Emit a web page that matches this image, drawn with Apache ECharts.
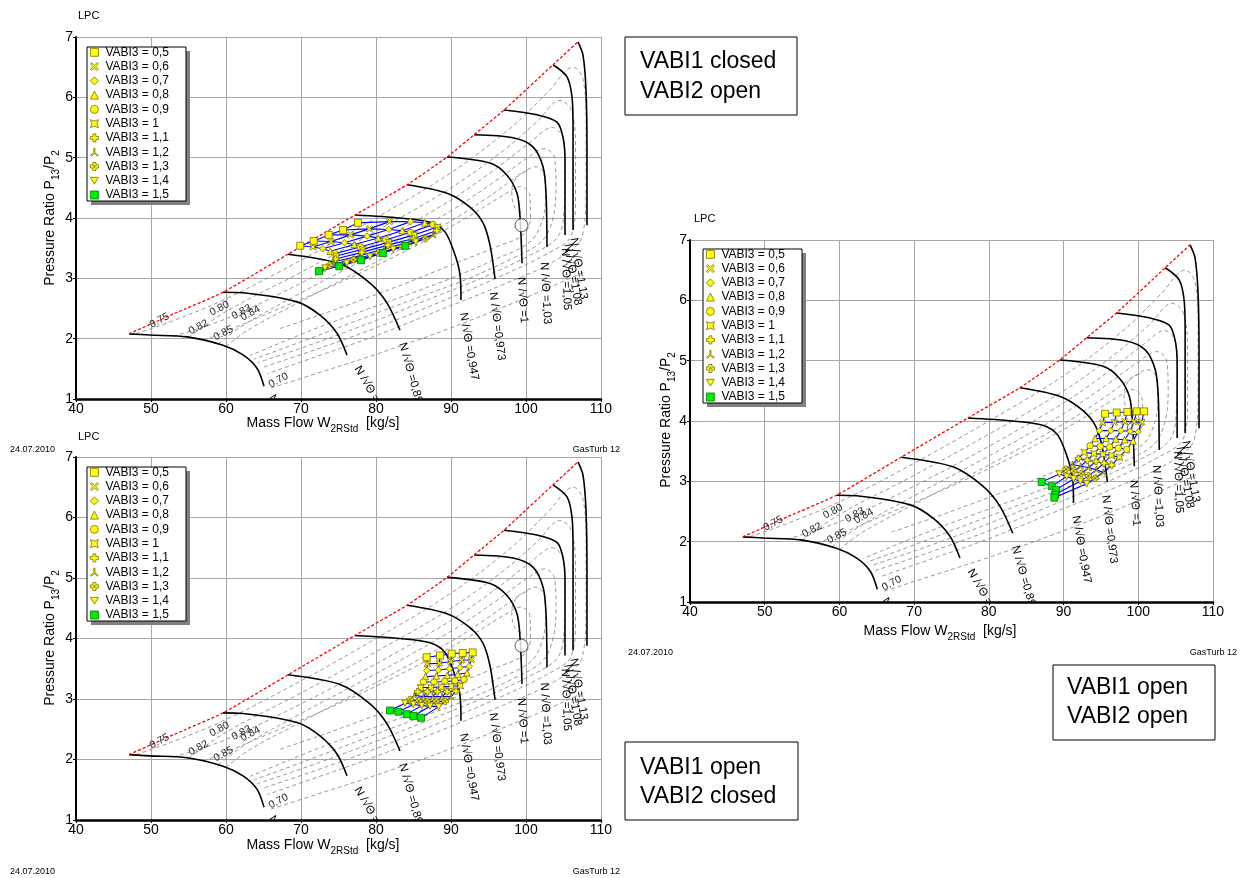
<!DOCTYPE html>
<html><head><meta charset="utf-8">
<script src="https://cdn.jsdelivr.net/npm/echarts@6/dist/echarts.min.js"></script>
<style>html,body{margin:0;padding:0;background:#fff}#c{width:1241px;height:878px}</style>
</head><body><div id="c"></div>
<script>
const FF = 'Liberation Sans, Arial, Helvetica, sans-serif';

// ---------- axis ranges ----------
const xRange = [40, 110, 10];
const yRange = [1, 7, 1];

// ---------- legend names ----------
const vabi3Names = ['VABI3 = 0,5','VABI3 = 0,6','VABI3 = 0,7','VABI3 = 0,8','VABI3 = 0,9','VABI3 = 1','VABI3 = 1,1','VABI3 = 1,2','VABI3 = 1,3','VABI3 = 1,4','VABI3 = 1,5'];

// ---------- compressor map: surge line ----------
const surgeLine = [[47.07,2.08],[53,2.41],[59.6,2.77],[68.27,3.40],[77.2,4.05],[84.13,4.55],[89.47,5.01],[93.07,5.38],[97.07,5.79],[103.6,6.54],[106.93,6.92]];

// ---------- speed lines N/sqrt(theta) ----------
const speedValues = ['0,80','0,842','0,894','0,947','0,973','1','1,03','1,05','1,08','1,13'];
const speedLines = [
  [[47.07,2.08],[49.87,2.06],[54.8,2.03],[59.6,1.89],[62.27,1.73],[64.13,1.51],[65.07,1.21]],
  [[59.6,2.77],[62.27,2.76],[69.47,2.61],[72.53,2.39],[74.8,2.09],[76.13,1.73]],
  [[68.27,3.40],[75.2,3.24],[79.2,2.92],[81.47,2.59],[83.2,2.14]],
  [[77.2,4.05],[83.2,4.0],[87.2,3.93],[89.2,3.77],[90.53,3.39],[91.2,3.06],[91.33,2.64]],
  [[84.13,4.55],[89.47,4.41],[92.53,4.18],[94.27,3.92],[95.2,3.55],[95.87,2.99]],
  [[89.47,5.01],[95.2,4.91],[97.47,4.71],[98.8,4.41],[99.2,4.02],[99.47,3.25]],
  [[93.07,5.38],[98.27,5.33],[100.93,5.18],[102.27,4.85],[102.67,4.41],[102.8,3.52]],
  [[97.07,5.79],[101.47,5.71],[104.13,5.59],[104.93,5.34],[105.2,4.96],[105.2,3.72]],
  [[103.6,6.54],[105.47,6.34],[106.13,6.01],[106.27,5.51],[106.27,3.80]],
  [[106.93,6.92],[107.6,6.70],[108.0,6.12],[108.13,5.13],[108.13,3.88]]
];
const speedLabelAnchor = [[66.0,1.05],[77.47,1.53],[83.47,1.93],[91.6,2.43],[95.6,2.77],[99.33,3.02],[102.4,3.27],[105.2,3.50],[105.5,3.57],[106.3,3.67]];
const designPoint = [99.4, 3.88];

// ---------- efficiency contours ----------
const effLevels = ['0.70','0.75','0.80','0.82','0.83','0.84','0.85'];
const effLabelAnchor = [[66.13,1.15],[50.27,2.14],[58.27,2.34],[55.47,2.03],[61.2,2.28],[62.4,2.26],[58.8,1.93]];
const effContours = [
  [[66.0,1.18],[72,1.42],[80,1.74],[90,2.18],[100,2.68],[108,3.12]],
  [[48.0,2.08],[53,2.3],[60,2.66],[70,3.3],[80,4.0],[90,4.75],[98,5.5],[103,6.1],[106.3,6.5],[107.6,6.3],[108,5.6],[108,4.5],[107.5,3.7],[104,3.3],[97,2.9],[88,2.45],[80,2.05],[72,1.7],[65.5,1.42]],
  [[55.0,2.02],[60,2.45],[70,3.1],[80,3.78],[90,4.5],[97,5.12],[101.5,5.6],[104.5,5.95],[106,5.8],[106.6,5.2],[106.6,4.3],[106,3.7],[103,3.42],[96,3.0],[88,2.58],[80,2.18],[72,1.82],[64.8,1.52]],
  [[53.0,2.04],[60,2.33],[70,2.92],[80,3.58],[90,4.3],[96,4.82],[100.5,5.25],[103.5,5.5],[105,5.3],[105.2,4.8],[105,4.0],[104,3.65],[100,3.35],[94,3.0],[87,2.65],[80,2.3],[72,1.93],[64.2,1.6]],
  [[59.0,1.91],[62,2.2],[70,2.76],[80,3.42],[90,4.12],[96,4.62],[100,4.98],[102.5,5.15],[103.8,5.0],[104,4.5],[103.5,3.95],[102,3.6],[98,3.32],[92,2.98],[86,2.7],[80,2.42],[72,2.04],[63.7,1.66]],
  [[60.0,1.87],[63,2.15],[70,2.62],[80,3.27],[90,3.95],[95,4.35],[99,4.7],[101.3,4.85],[102.5,4.7],[102.6,4.3],[102,3.9],[100.5,3.6],[96,3.32],[90,3.0],[84,2.72],[78,2.45],[71,2.12],[63.2,1.72]],
  [[57.0,1.97],[60,2.12],[66,2.44],[75,2.92],[85,3.52],[92,4.0],[97,4.38],[99.3,4.52],[100.5,4.38],[100.6,4.0],[99.6,3.72],[96,3.52],[90,3.22],[84,2.92],[78,2.64],[72,2.37],[67,2.16]],
  [[100.2,4.78],[98.9,4.7],[98.1,4.45],[98.5,4.18],[99.8,4.06]]
];

// ---------- operating points: one row per VABI3 value, 5 points each ----------
const opVabi1ClosedVabi2Open = [
  [[69.9,3.54],[71.7,3.62],[73.7,3.72],[75.6,3.80],[77.6,3.92]],
  [[71.6,3.52],[74.0,3.61],[76.6,3.72],[79.1,3.82],[81.8,3.94]],
  [[72.9,3.49],[75.8,3.59],[78.8,3.70],[81.7,3.81],[84.6,3.94]],
  [[73.9,3.45],[77.1,3.56],[80.3,3.67],[83.5,3.79],[86.5,3.92]],
  [[74.5,3.41],[77.9,3.52],[81.3,3.64],[84.6,3.76],[87.6,3.89]],
  [[74.7,3.37],[78.2,3.48],[81.7,3.60],[85.1,3.72],[88.2,3.85]],
  [[74.6,3.32],[78.1,3.43],[81.6,3.55],[85.0,3.66],[88.1,3.79]],
  [[74.3,3.27],[77.7,3.37],[81.1,3.49],[84.4,3.60],[87.6,3.72]],
  [[73.8,3.22],[77.0,3.31],[80.3,3.42],[83.5,3.53],[86.6,3.66]],
  [[73.2,3.17],[76.1,3.25],[79.2,3.36],[82.3,3.48],[85.3,3.60]],
  [[72.4,3.12],[75.1,3.20],[78.0,3.30],[80.9,3.42],[83.9,3.54]]
];
const opVabi1OpenVabi2Closed = [
  [[86.76,3.69],[88.53,3.72],[90.09,3.75],[91.56,3.76],[92.89,3.77]],
  [[86.84,3.58],[88.44,3.59],[89.96,3.62],[91.42,3.64],[92.71,3.65]],
  [[86.76,3.47],[88.31,3.48],[89.78,3.50],[91.2,3.52],[92.44,3.54]],
  [[86.58,3.37],[88.04,3.38],[89.51,3.39],[90.89,3.41],[92.13,3.43]],
  [[86.31,3.28],[87.73,3.28],[89.16,3.29],[90.53,3.30],[91.73,3.32]],
  [[85.96,3.19],[87.33,3.19],[88.71,3.20],[90.04,3.21],[91.24,3.22]],
  [[85.56,3.12],[86.84,3.12],[88.18,3.12],[89.47,3.12],[90.67,3.13]],
  [[85.11,3.06],[86.31,3.04],[87.56,3.04],[88.8,3.04],[90.0,3.04]],
  [[84.53,2.99],[85.69,2.97],[86.84,2.96],[88.04,2.96],[89.24,2.96]],
  [[83.87,2.93],[84.98,2.91],[86.09,2.89],[87.2,2.88],[88.36,2.87]],
  [[81.87,2.81],[82.98,2.79],[84.09,2.75],[84.98,2.72],[86.0,2.69]]
];
const opVabi1OpenVabi2Open = [
  [[95.55,4.12],[97.11,4.14],[98.54,4.15],[99.79,4.16],[100.77,4.16]],
  [[95.24,3.97],[96.80,3.98],[98.18,3.99],[99.43,3.99],[100.46,3.98]],
  [[94.79,3.84],[96.31,3.84],[97.65,3.84],[98.90,3.83],[99.97,3.82]],
  [[94.21,3.71],[95.68,3.71],[96.98,3.70],[98.18,3.69],[99.30,3.67]],
  [[93.54,3.59],[94.92,3.58],[96.17,3.57],[97.33,3.55],[98.45,3.53]],
  [[92.78,3.48],[94.08,3.46],[95.28,3.45],[96.40,3.43],[97.47,3.40]],
  [[91.98,3.38],[93.18,3.35],[94.34,3.33],[95.41,3.30],[96.44,3.27]],
  [[91.18,3.28],[92.29,3.25],[93.36,3.23],[94.39,3.19],[95.33,3.15]],
  [[90.33,3.20],[91.35,3.17],[92.38,3.13],[93.32,3.09],[94.21,3.05]],
  [[89.44,3.12],[90.42,3.08],[91.35,3.04],[92.25,3.00],[93.09,2.96]],
  [[87.07,2.99],[88.41,2.92],[88.99,2.86],[88.86,2.78],[88.77,2.73]]
];

// ---------- styles ----------
const speedLabelRot = [55, 60, 74, 80, 83, 86, 87, 88, 80, 80];
const symbolShapes = [
  'rect',
  'path://M0,1.5 L1.5,0 L5,3.2 L8.5,0 L10,1.5 L6.8,5 L10,8.5 L8.5,10 L5,6.8 L1.5,10 L0,8.5 L3.2,5 Z',
  'diamond',
  'triangle',
  'circle',
  'path://M0,0 Q5,3.5 10,0 Q6.5,5 10,10 Q5,6.5 0,10 Q3.5,5 0,0 Z',
  'path://M3.2,0 L6.8,0 L6.8,3.2 L10,3.2 L10,6.8 L6.8,6.8 L6.8,10 L3.2,10 L3.2,6.8 L0,6.8 L0,3.2 L3.2,3.2 Z',
  'path://M4.3,0 L5.7,0 L5.7,5.6 L10,9 L9.2,10 L5,6.8 L0.8,10 L0,9 L4.3,5.6 Z',
  'path://M3,0 L7,0 L7,3 L10,3 L10,7 L7,7 L7,10 L3,10 L3,7 L0,7 L0,3 L3,3 Z M4,4 L4,6 L6,6 L6,4 Z',
  'path://M0,0 L10,0 L5,8.5 Z',
  'rect'
];
const yellowStyle = {color:'#ffff00', borderColor:'#7a7000', borderWidth:0.8};
const greenStyle = {color:'#00ee00', borderColor:'#007a00', borderWidth:0.8};

const panels = [
  {grid:{left:76, top:37, width:525, height:362}, rows:opVabi1ClosedVabi2Open, leg:[87,47],
   lpc:[78,16], date:[10,450], gt:[620,450], xname:[323,425], yname:[52,218],
   box:[625,37,172,78], boxText:['VABI1 closed','VABI2 open'], boxTextPos:[[640,62],[640,92]]},
  {grid:{left:76, top:457, width:525, height:363}, rows:opVabi1OpenVabi2Closed, leg:[87,467],
   lpc:[78,437], date:[10,872], gt:[620,872], xname:[323,847], yname:[52,638],
   box:[625,742,173,78], boxText:['VABI1 open','VABI2 closed'], boxTextPos:[[640,768],[640,797]]},
  {grid:{left:690, top:240, width:523, height:362}, rows:opVabi1OpenVabi2Open, leg:[703,249],
   lpc:[694,219], date:[628,653], gt:[1237,653], xname:[940,633], yname:[668,420],
   box:[1053,665,162,75], boxText:['VABI1 open','VABI2 open'], boxTextPos:[[1067,688],[1067,717]]}
];

const option = {animation:false, backgroundColor:'#fff', grid:[], xAxis:[], yAxis:[], legend:[], series:[], graphic:[]};

panels.forEach((p, gi) => {
  option.grid.push(Object.assign({containLabel:false}, p.grid));
  option.xAxis.push({type:'value', gridIndex:gi, min:xRange[0], max:xRange[1], interval:xRange[2],
    axisLine:{show:true, onZero:false, lineStyle:{color:'#000', width:2.5}},
    axisTick:{show:true, length:3, lineStyle:{color:'#000'}},
    axisLabel:{color:'#000', fontSize:14, fontFamily:FF, margin:3, showMinLabel:true, showMaxLabel:true},
    splitLine:{show:true, lineStyle:{color:'#a6a6a6', width:1}}});
  option.yAxis.push({type:'value', gridIndex:gi, min:yRange[0], max:yRange[1], interval:yRange[2],
    axisLine:{show:true, onZero:false, lineStyle:{color:'#000', width:2}},
    axisTick:{show:true, length:3, lineStyle:{color:'#000'}},
    axisLabel:{color:'#000', fontSize:14, fontFamily:FF, margin:3, showMinLabel:true, showMaxLabel:true},
    splitLine:{show:true, lineStyle:{color:'#a6a6a6', width:1}}});

  const ax = {xAxisIndex:gi, yAxisIndex:gi, silent:true};
  effContours.forEach(c => option.series.push(Object.assign({type:'line', data:c, smooth:0.35, symbol:'none',
    lineStyle:{color:'#8c8c8c', width:0.9, type:[4,3]}, z:2}, ax)));
  speedLines.forEach(c => option.series.push(Object.assign({type:'line', data:c, smooth:0.3, symbol:'none',
    lineStyle:{color:'#000', width:1.6}, z:2}, ax)));
  option.series.push(Object.assign({type:'line', data:surgeLine, smooth:0.2, symbol:'none',
    lineStyle:{color:'#ff0000', width:1.3, type:[3,2]}, z:2}, ax));
  option.series.push(Object.assign({type:'scatter', data:[designPoint], symbol:'circle', symbolSize:13,
    itemStyle:{color:'#fff', borderColor:'#333', borderWidth:1}, z:2}, ax));
  // speed labels
  option.series.push(Object.assign({type:'custom', coordinateSystem:'cartesian2d', clip:true, z:3,
    encode:{x:0, y:1},
    data:speedLabelAnchor.map((a,i)=>[a[0],a[1],i]),
    renderItem:(params, api) => {
      const i = api.value(2);
      const pt = api.coord([api.value(0), api.value(1)]);
      return {type:'text', x:pt[0], y:pt[1], rotation:-speedLabelRot[i]*Math.PI/180,
        style:{text:'N /\u221A\u0398 =' + speedValues[i], fontSize:11.5, fontFamily:FF, fill:'#000', align:'left', verticalAlign:'middle'}};
    }}, ax));
  // efficiency labels
  option.series.push(Object.assign({type:'custom', coordinateSystem:'cartesian2d', clip:true, z:3,
    encode:{x:0, y:1},
    data:effLabelAnchor.map((a,i)=>[a[0],a[1],i]),
    renderItem:(params, api) => {
      const i = api.value(2);
      const pt = api.coord([api.value(0), api.value(1)]);
      return {type:'text', x:pt[0], y:pt[1], rotation:28*Math.PI/180,
        style:{text:effLevels[i], fontSize:10.5, fontFamily:FF, fill:'#222', align:'left', verticalAlign:'bottom'}};
    }}, ax));
  // operating mesh: columns
  for (let j = 0; j < 5; j++) {
    option.series.push(Object.assign({type:'line', data:p.rows.map(r => r[j]), symbol:'none',
      lineStyle:{color:'#0000ff', width:1.1}, z:4}, ax));
  }
  // operating mesh: rows (legend series)
  p.rows.forEach((r, k) => {
    option.series.push(Object.assign({type:'line', name:vabi3Names[k], data:r, symbol:symbolShapes[k],
      symbolSize:(k===0||k===10)?7:6.5, showSymbol:true,
      itemStyle:(k===10?greenStyle:yellowStyle), lineStyle:{color:'#0000ff', width:1.1}, z:5}, ax));
  });

  // legend
  option.legend.push({left:p.leg[0]+3, top:p.leg[1]-0.7, orient:'vertical', z:10, selectedMode:false,
    data:vabi3Names.map((n,k)=>({name:n, icon:symbolShapes[k], itemStyle:(k===10?greenStyle:yellowStyle)})),
    itemWidth:8, itemHeight:8, itemGap:2.27, padding:0,
    textStyle:{fontSize:12, lineHeight:12, color:'#000', fontFamily:FF, padding:[0,0,0,2]}});
  option.graphic.push({type:'rect', z:3, shape:{x:p.leg[0]+4, y:p.leg[1]+4, width:99, height:154}, style:{fill:'#808080'}});
  option.graphic.push({type:'rect', z:3, shape:{x:p.leg[0], y:p.leg[1], width:99, height:154}, style:{fill:'#fff', stroke:'#000', lineWidth:1}});

  // texts
  option.graphic.push({type:'text', z:6, x:p.lpc[0], y:p.lpc[1], style:{text:'LPC', fontSize:11, fontFamily:FF, fill:'#000', verticalAlign:'middle'}});
  option.graphic.push({type:'text', z:6, x:p.date[0], y:p.date[1], style:{text:'24.07.2010', fontSize:9, fontFamily:FF, fill:'#000', verticalAlign:'middle'}});
  option.graphic.push({type:'text', z:6, x:p.gt[0], y:p.gt[1], style:{text:'GasTurb 12', fontSize:9, fontFamily:FF, fill:'#000', align:'right', verticalAlign:'middle'}});
  option.graphic.push({type:'text', z:6, x:p.xname[0], y:p.xname[1], style:{
    text:'{a|Mass Flow W}{s|2RStd}{a|  [kg/s]}', align:'center', verticalAlign:'middle',
    rich:{a:{fontSize:14, fontFamily:FF, fill:'#000', verticalAlign:'bottom', padding:[0,0,4,0]},
          s:{fontSize:10, fontFamily:FF, fill:'#000', verticalAlign:'bottom'}}}});
  option.graphic.push({type:'text', z:6, x:p.yname[0], y:p.yname[1], rotation:Math.PI/2, style:{
    text:'{a|Pressure Ratio P}{s|13}{a|/P}{s|2}', align:'center', verticalAlign:'middle',
    rich:{a:{fontSize:14, fontFamily:FF, fill:'#000', verticalAlign:'bottom', padding:[0,0,4,0]},
          s:{fontSize:10, fontFamily:FF, fill:'#000', verticalAlign:'bottom'}}}});
  // annotation box
  option.graphic.push({type:'rect', z:6, shape:{x:p.box[0], y:p.box[1], width:p.box[2], height:p.box[3]}, style:{fill:'#fff', stroke:'#000', lineWidth:1}});
  p.boxText.forEach((t, k) => option.graphic.push({type:'text', z:7, x:p.boxTextPos[k][0], y:p.boxTextPos[k][1],
    style:{text:t, fontSize:23, fontFamily:FF, fill:'#000', verticalAlign:'middle'}}));
});

const chart = echarts.init(document.getElementById('c'), null, {renderer:'canvas'});
chart.setOption(option);
</script></body></html>
